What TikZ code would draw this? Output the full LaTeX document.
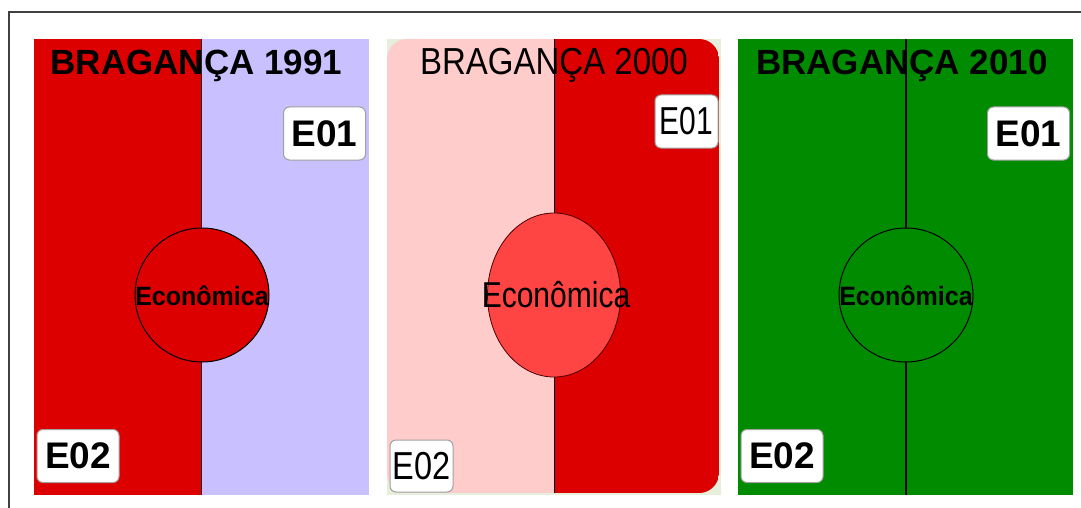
\documentclass[tikz,border=0pt]{standalone}
\usepackage{fontspec}
\setmainfont{Liberation Sans}
\usetikzlibrary{shapes.geometric}
\definecolor{pred}{HTML}{DD0000}
\definecolor{plav}{HTML}{C8C0FF}
\definecolor{ppink}{HTML}{FFCCCC}
\definecolor{pcirc}{HTML}{FF4444}
\definecolor{pgreen}{HTML}{008B00}
\definecolor{pbg}{HTML}{E6EEDC}
\definecolor{boxgray}{HTML}{A0A0A0}
\tikzset{
  ebox/.style={draw=boxgray, line width=1pt, fill=white, rounded corners=6pt, inner sep=0pt, minimum width=82pt, minimum height=53pt},
  eboxthin/.style={ebox, minimum width=63pt, minimum height=53pt},
  divider/.style={draw=black, line width=1.6pt},
  ring/.style={circle, draw=black, line width=1pt, inner sep=0pt, minimum size=134pt},
  title/.style={anchor=base, inner sep=0pt},
  lbl/.style={inner sep=0pt}
}
\begin{document}
\begin{tikzpicture}[x=1pt,y=-1pt]
\useasboundingbox (0,0) rectangle (1081,508);
\clip (0,0) rectangle (1081,508);
\fill[white] (0,0) rectangle (1081,508);
% outer frame
\draw[line width=1.3pt, draw=black!75] (9,530) -- (9,12) -- (1100,12);

% ---------- panel 1 ----------
\fill[pred] (34,39) rectangle (201.5,495);
\fill[plav] (201.5,39) rectangle (369,495);
\coordinate (t1) at (201.5,39);
\coordinate (b1) at (201.5,495);
\draw[divider, draw=black!85] (t1) -- (b1);
\node[ring, fill=pred] (c1) at (202,295) {};
\node[lbl] (l1) at (202,296) {\fontsize{25}{30}\selectfont\bfseries\scalebox{1}[1.06]{Econômica}};
\node[title] (h1) at (196.5,75) {\fontsize{35}{40}\selectfont\bfseries BRAGANÇA 1991};
\node[ebox] (e11) at (324.5,133.5) {\fontsize{37}{40}\selectfont\bfseries E01};
\node[ebox] (e12) at (78,456) {\fontsize{37}{40}\selectfont\bfseries E02};

% ---------- panel 2 ----------
\fill[pbg] (387,39) rectangle (721,495);
\begin{scope}
\clip[rounded corners=20pt] (387,39) rectangle (719,493);
\fill[ppink] (387,39) rectangle (554,493);
\fill[pred] (554,39) rectangle (719,493);
\end{scope}
\coordinate (t2) at (554,39);
\coordinate (b2) at (554,493);
\draw[line width=1pt] (t2) -- (b2);
\node[ellipse, draw=black!70!red, line width=0.8pt, fill=pcirc, inner sep=0pt, minimum width=133pt, minimum height=164pt] (c2) at (554,295) {};
\node[lbl] (l2) at (556,295) {\fontsize{30}{34}\selectfont\scalebox{1}[1.2]{Econômica}};
\node[title] (h2) at (554,75) {\fontsize{33}{38}\selectfont\scalebox{1}[1.14]{BRAGANÇA 2000}};
\node[eboxthin] (e21) at (686.5,121.5) {\fontsize{30}{34}\selectfont\scalebox{1}[1.3]{E01}};
\node[eboxthin, minimum height=52pt] (e22) at (421.5,466) {\fontsize{32.5}{36}\selectfont\scalebox{1}[1.2]{E02}};

% ---------- panel 3 ----------
\fill[pgreen] (738,39) rectangle (1073,495);
\coordinate (t3) at (906,39);
\coordinate (b3) at (906,495);
\draw[divider] (t3) -- (b3);
\node[ring, fill=pgreen] (c3) at (906,295) {};
\node[lbl] (l3) at (906,296) {\fontsize{25}{30}\selectfont\bfseries\scalebox{1}[1.06]{Econômica}};
\node[title] (h3) at (902,75) {\fontsize{35}{40}\selectfont\bfseries BRAGANÇA 2010};
\node[ebox] (e31) at (1028.5,133.5) {\fontsize{37}{40}\selectfont\bfseries E01};
\node[ebox] (e32) at (782,456) {\fontsize{37}{40}\selectfont\bfseries E02};
\end{tikzpicture}
\end{document}
